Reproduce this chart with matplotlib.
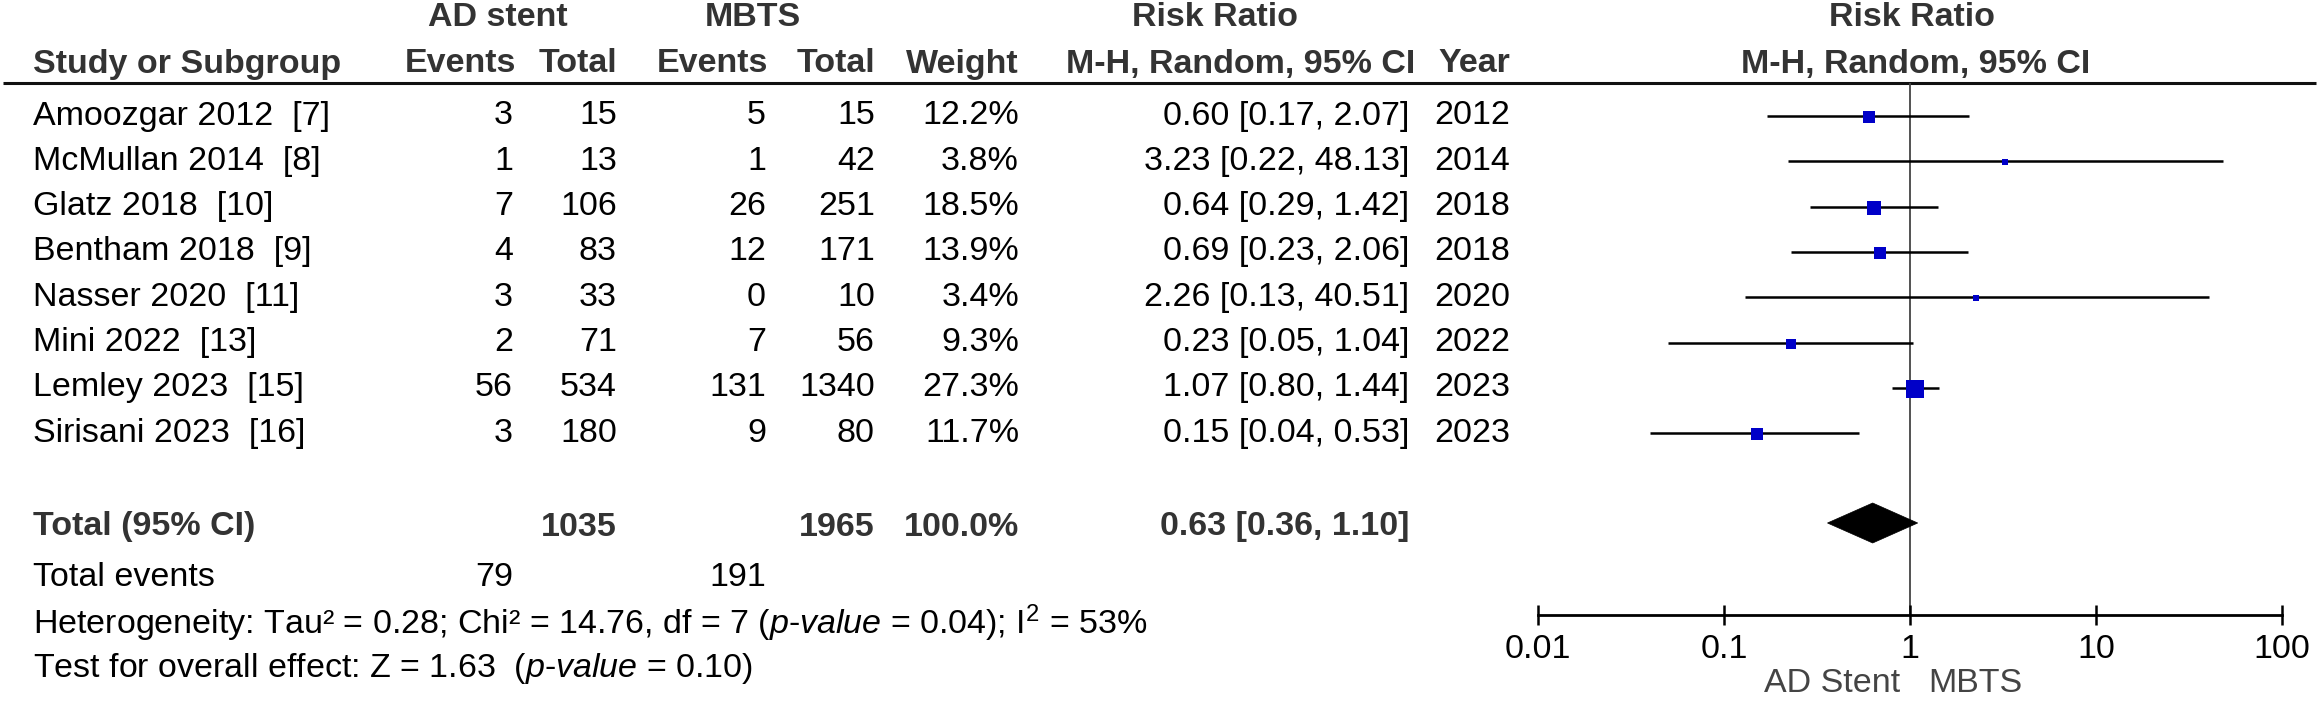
import matplotlib
matplotlib.use('Agg')
import matplotlib.pyplot as plt
from matplotlib.patches import Polygon

plt.rcParams['font.family'] = ['Liberation Sans', 'DejaVu Sans']
plt.rcParams['mathtext.fontset'] = 'custom'
plt.rcParams['mathtext.rm'] = 'Liberation Sans'
plt.rcParams['mathtext.it'] = 'Liberation Sans:italic'

# ---------------------------------------------------------------------------
# Data
# ---------------------------------------------------------------------------
studies = ['Amoozgar 2012  [7]', 'McMullan 2014  [8]', 'Glatz 2018  [10]',
           'Bentham 2018  [9]', 'Nasser 2020  [11]', 'Mini 2022  [13]',
           'Lemley 2023  [15]', 'Sirisani 2023  [16]']
ad_events = [3, 1, 7, 4, 3, 2, 56, 3]
ad_total = [15, 13, 106, 83, 33, 71, 534, 180]
mb_events = [5, 1, 26, 12, 0, 7, 131, 9]
mb_total = [15, 42, 251, 171, 10, 56, 1340, 80]
weight = [12.2, 3.8, 18.5, 13.9, 3.4, 9.3, 27.3, 11.7]
rr = [0.60, 3.23, 0.64, 0.69, 2.26, 0.23, 1.07, 0.15]
rr_lo = [0.17, 0.22, 0.29, 0.23, 0.13, 0.05, 0.80, 0.04]
rr_hi = [2.07, 48.13, 1.42, 2.06, 40.51, 1.04, 1.44, 0.53]
year = [2012, 2014, 2018, 2018, 2020, 2022, 2023, 2023]

total_ad, total_mb = 1035, 1965
events_ad, events_mb = 79, 191
total_rr, total_lo, total_hi = 0.63, 0.36, 1.10
total_weight = 100.0

ticks = [0.01, 0.1, 1, 10, 100]
tick_labels = ['0.01', '0.1', '1', '10', '100']

het_text = (r'Heterogeneity: Tau² = 0.28; Chi² = 14.76, df = 7 '
            r'($\mathit{p}$-$\mathit{value}$ = 0.04); $\mathrm{I}^{2}$ = 53%')
test_text = r'Test for overall effect: Z = 1.63  ($\mathit{p}$-$\mathit{value}$ = 0.10)'

# ---------------------------------------------------------------------------
# Layout (pixel units)
# ---------------------------------------------------------------------------
W, H = 2319, 703
FS = 24.5
HEAD = '#333333'
BLUE = '#0000C8'

row_y0, row_dy = 116, 45.3
rows = [row_y0 + i * row_dy for i in range(len(studies))]
y_total, y_events, y_het, y_test = 527, 577, 623, 669
line_y = 83
axis_y = 615
x_lo, x_hi = 1538, 2282

fig = plt.figure(figsize=(W / 100, H / 100), dpi=100)
ax = fig.add_axes([0, 0, 1, 1])
ax.set_xlim(0, W)
ax.set_ylim(H, 0)
ax.axis('off')

# headers
for txt, x in [('AD stent', 498), ('MBTS', 753), ('Risk Ratio', 1215), ('Risk Ratio', 1912)]:
    ax.text(x, 18, txt, ha='center', va='center', fontsize=FS, fontweight='bold', color=HEAD)
ax.text(33, 64, 'Study or Subgroup', ha='left', va='center', fontsize=FS,
        fontweight='bold', color=HEAD)
for txt, x in [('Events', 516), ('Total', 617), ('Events', 768), ('Total', 875),
               ('Weight', 1019), ('M-H, Random, 95% CI', 1415), ('Year', 1510)]:
    ax.text(x, 64, txt, ha='right', va='center', fontsize=FS, fontweight='bold', color=HEAD)
ax.text(1916, 64, 'M-H, Random, 95% CI', ha='center', va='center', fontsize=FS,
        fontweight='bold', color=HEAD)
ax.plot([3, 2316], [line_y, line_y], color='#111111', lw=2.2, solid_capstyle='butt')

# study rows
cols = [513, 617, 766, 875, 1019, 1409, 1510]
for i, y in enumerate(rows):
    ax.text(33, y, studies[i], ha='left', va='center', fontsize=FS)
    vals = [str(ad_events[i]), str(ad_total[i]), str(mb_events[i]), str(mb_total[i]),
            f'{weight[i]:.1f}%', f'{rr[i]:.2f} [{rr_lo[i]:.2f}, {rr_hi[i]:.2f}]', str(year[i])]
    for v, x in zip(vals, cols):
        ax.text(x, y, v, ha='right', va='center', fontsize=FS)

# totals
ax.text(33, y_total, 'Total (95% CI)', ha='left', va='center', fontsize=FS,
        fontweight='bold', color=HEAD)
for v, x in [(str(total_ad), 617), (str(total_mb), 875), (f'{total_weight:.1f}%', 1019),
             (f'{total_rr:.2f} [{total_lo:.2f}, {total_hi:.2f}]', 1409)]:
    ax.text(x, y_total, v, ha='right', va='center', fontsize=FS, fontweight='bold', color=HEAD)
ax.text(33, y_events, 'Total events', ha='left', va='center', fontsize=FS)
ax.text(513, y_events, str(events_ad), ha='right', va='center', fontsize=FS)
ax.text(766, y_events, str(events_mb), ha='right', va='center', fontsize=FS)
ax.text(33, y_het, het_text, ha='left', va='center', fontsize=FS)
ax.text(33, y_test, test_text, ha='left', va='center', fontsize=FS)

# ---------------------------------------------------------------------------
# Forest plot
# ---------------------------------------------------------------------------
fx = fig.add_axes([x_lo / W, (H - axis_y) / H, (x_hi - x_lo) / W, (axis_y - line_y) / H])
fx.patch.set_alpha(0)
fx.set_xscale('log')
fx.set_xlim(ticks[0], ticks[-1])
fx.set_ylim(axis_y, line_y)
for s in ['top', 'left', 'right']:
    fx.spines[s].set_visible(False)
fx.spines['bottom'].set_linewidth(2.0)
fx.set_yticks([])
fx.set_xticks(ticks)
fx.set_xticklabels(tick_labels)
fx.minorticks_off()
fx.tick_params(axis='x', direction='inout', length=15, width=1.8, labelsize=FS, pad=6)

fx.axvline(1, color='#444444', lw=1.3, zorder=1)
for i, y in enumerate(rows):
    fx.plot([rr_lo[i], rr_hi[i]], [y, y], color='black', lw=1.8, solid_capstyle='butt', zorder=2)
    side = 3.44 * weight[i] ** 0.5 * 0.72
    fx.plot([rr[i]], [y + 1], marker='s', ms=side, mew=0, color=BLUE, zorder=3)

dia = Polygon([(total_lo, y_total - 4), (total_rr, y_total - 24),
               (total_hi, y_total - 4), (total_rr, y_total + 16)],
              closed=True, facecolor='black', edgecolor='black', lw=0.5, zorder=3)
fx.add_patch(dia)

ax.text(1900, 683, 'AD Stent', ha='right', va='center', fontsize=FS, color='#444444')
ax.text(1928, 683, 'MBTS', ha='left', va='center', fontsize=FS, color='#444444')

fig.savefig('out.png', dpi=100)
